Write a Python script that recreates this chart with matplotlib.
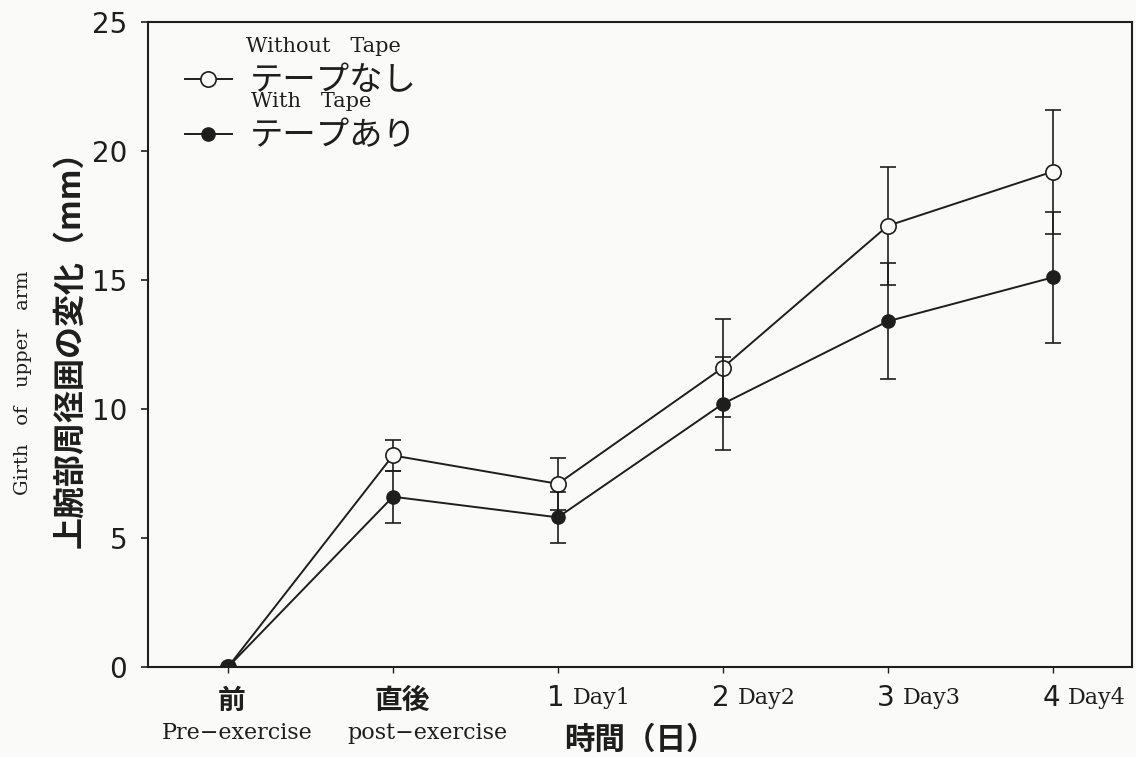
import matplotlib
matplotlib.use("Agg")
import matplotlib.pyplot as plt
from matplotlib.lines import Line2D
from matplotlib.transforms import blended_transform_factory

# --- data -------------------------------------------------------------
categories = ["前", "直後", "1", "2", "3", "4"]
category_sub = ["Pre−exercise", "post−exercise", "Day1", "Day2", "Day3", "Day4"]
without_tape = [0.0, 8.2, 7.1, 11.6, 17.1, 19.2]
without_err = [0.0, 0.6, 1.0, 1.9, 2.3, 2.4]
with_tape = [0.0, 6.6, 5.8, 10.2, 13.4, 15.1]
with_err = [0.0, 1.0, 1.0, 1.8, 2.25, 2.55]
yticks = [0, 5, 10, 15, 20, 25]

CJK = ["Noto Sans CJK JP", "DejaVu Sans"]
SERIF = "DejaVu Serif"
SANS = "DejaVu Sans"
INK = "#1e1e1e"
PAPER = "#fafaf8"

fig = plt.figure(figsize=(11.36, 7.57), dpi=100, facecolor=PAPER)
ax = fig.add_axes([0.1303, 0.1189, 0.866, 0.852], facecolor=PAPER)

x = list(range(len(categories)))

ax.errorbar(x, without_tape, yerr=without_err, color=INK, lw=1.4,
            elinewidth=1.2, capsize=6, capthick=1.2,
            marker="o", ms=11, mfc=PAPER, mec=INK, mew=1.2, zorder=3)
ax.errorbar(x, with_tape, yerr=with_err, color=INK, lw=1.4,
            elinewidth=1.2, capsize=6, capthick=1.2,
            marker="o", ms=9.5, mfc=INK, mec=INK, zorder=4)

ax.set_xlim(-0.485, 5.48)
ax.set_ylim(0, 25)
ax.set_yticks(yticks)
ax.set_yticklabels([str(v) for v in yticks], fontfamily=SANS, fontsize=20)
ax.set_xticks(x)
ax.set_xticklabels([])
ax.tick_params(axis="y", direction="out", length=5, width=1.2, colors=INK, pad=10)
ax.tick_params(axis="x", direction="out", length=4, width=1.0, colors=INK)
for s in ax.spines.values():
    s.set_color(INK)
    s.set_linewidth(1.5)

# category labels under the axis
tr = blended_transform_factory(ax.transData, ax.transAxes)
cjk_shift = [0.02, 0.055]
sub_shift = [0.058, 0.21]
for i, (c, sub) in enumerate(zip(categories, category_sub)):
    if i < 2:
        ax.text(i + cjk_shift[i], -0.053, c, transform=tr, ha="center",
                va="center", fontsize=20, fontfamily=CJK, fontweight="bold",
                color=INK)
        ax.text(i + sub_shift[i], -0.102, sub, transform=tr, ha="center",
                va="center", fontsize=16, fontfamily=SERIF, color=INK)
    else:
        ax.text(i - 0.01, -0.048, c, transform=tr, ha="center", va="center",
                fontsize=20, fontfamily=SANS, color=INK)
        ax.annotate(sub, xy=(i, -0.048), xycoords=tr, xytext=(11, 0),
                    textcoords="offset points", ha="left", va="center",
                    fontsize=16, fontfamily=SERIF, color=INK)

ax.text(0.5, -0.113, "時間（日）", transform=ax.transAxes, ha="center",
        va="center", fontsize=22, fontfamily=CJK, fontweight="bold", color=INK)

# y axis titles
ax.text(-0.079, 0.505, "上腕部周径囲の変化（mm）", transform=ax.transAxes,
        rotation=90, ha="center", va="center", fontsize=23, fontfamily=CJK,
        fontweight="bold", color=INK)
ax.text(-0.127, 0.44, "Girth   of   upper   arm", transform=ax.transAxes,
        rotation=90, ha="center", va="center", fontsize=14, fontfamily=SERIF,
        color=INK)

# legend
handles = [
    Line2D([], [], color=INK, lw=1.4, marker="o", ms=11, mfc=PAPER, mec=INK, mew=1.2),
    Line2D([], [], color=INK, lw=1.4, marker="o", ms=9.5, mfc=INK, mec=INK),
]
leg = ax.legend(handles, ["テープなし", "テープあり"], loc="upper left",
                bbox_to_anchor=(0.0376, 0.936), frameon=False, borderpad=0,
                borderaxespad=0, handlelength=1.4, handletextpad=0.55,
                labelspacing=0.6, prop={"family": CJK, "size": 24})
for t in leg.get_texts():
    t.set_color(INK)

# English captions above each legend entry
fig.canvas.draw()
to_axes = ax.transAxes.inverted()
for txt, eng, dx in zip(leg.get_texts(), ["Without   Tape", "With   Tape"], [-4, 1]):
    bb = txt.get_window_extent()
    cx, cy = bb.x0 + dx, (bb.y0 + bb.y1) / 2 + 34
    ax_x, ax_y = to_axes.transform((cx, cy))
    ax.text(ax_x, ax_y, eng, transform=ax.transAxes, ha="left", va="center",
            fontsize=15, fontfamily=SERIF, color=INK)

fig.savefig("out.png", dpi=100, facecolor=PAPER)
